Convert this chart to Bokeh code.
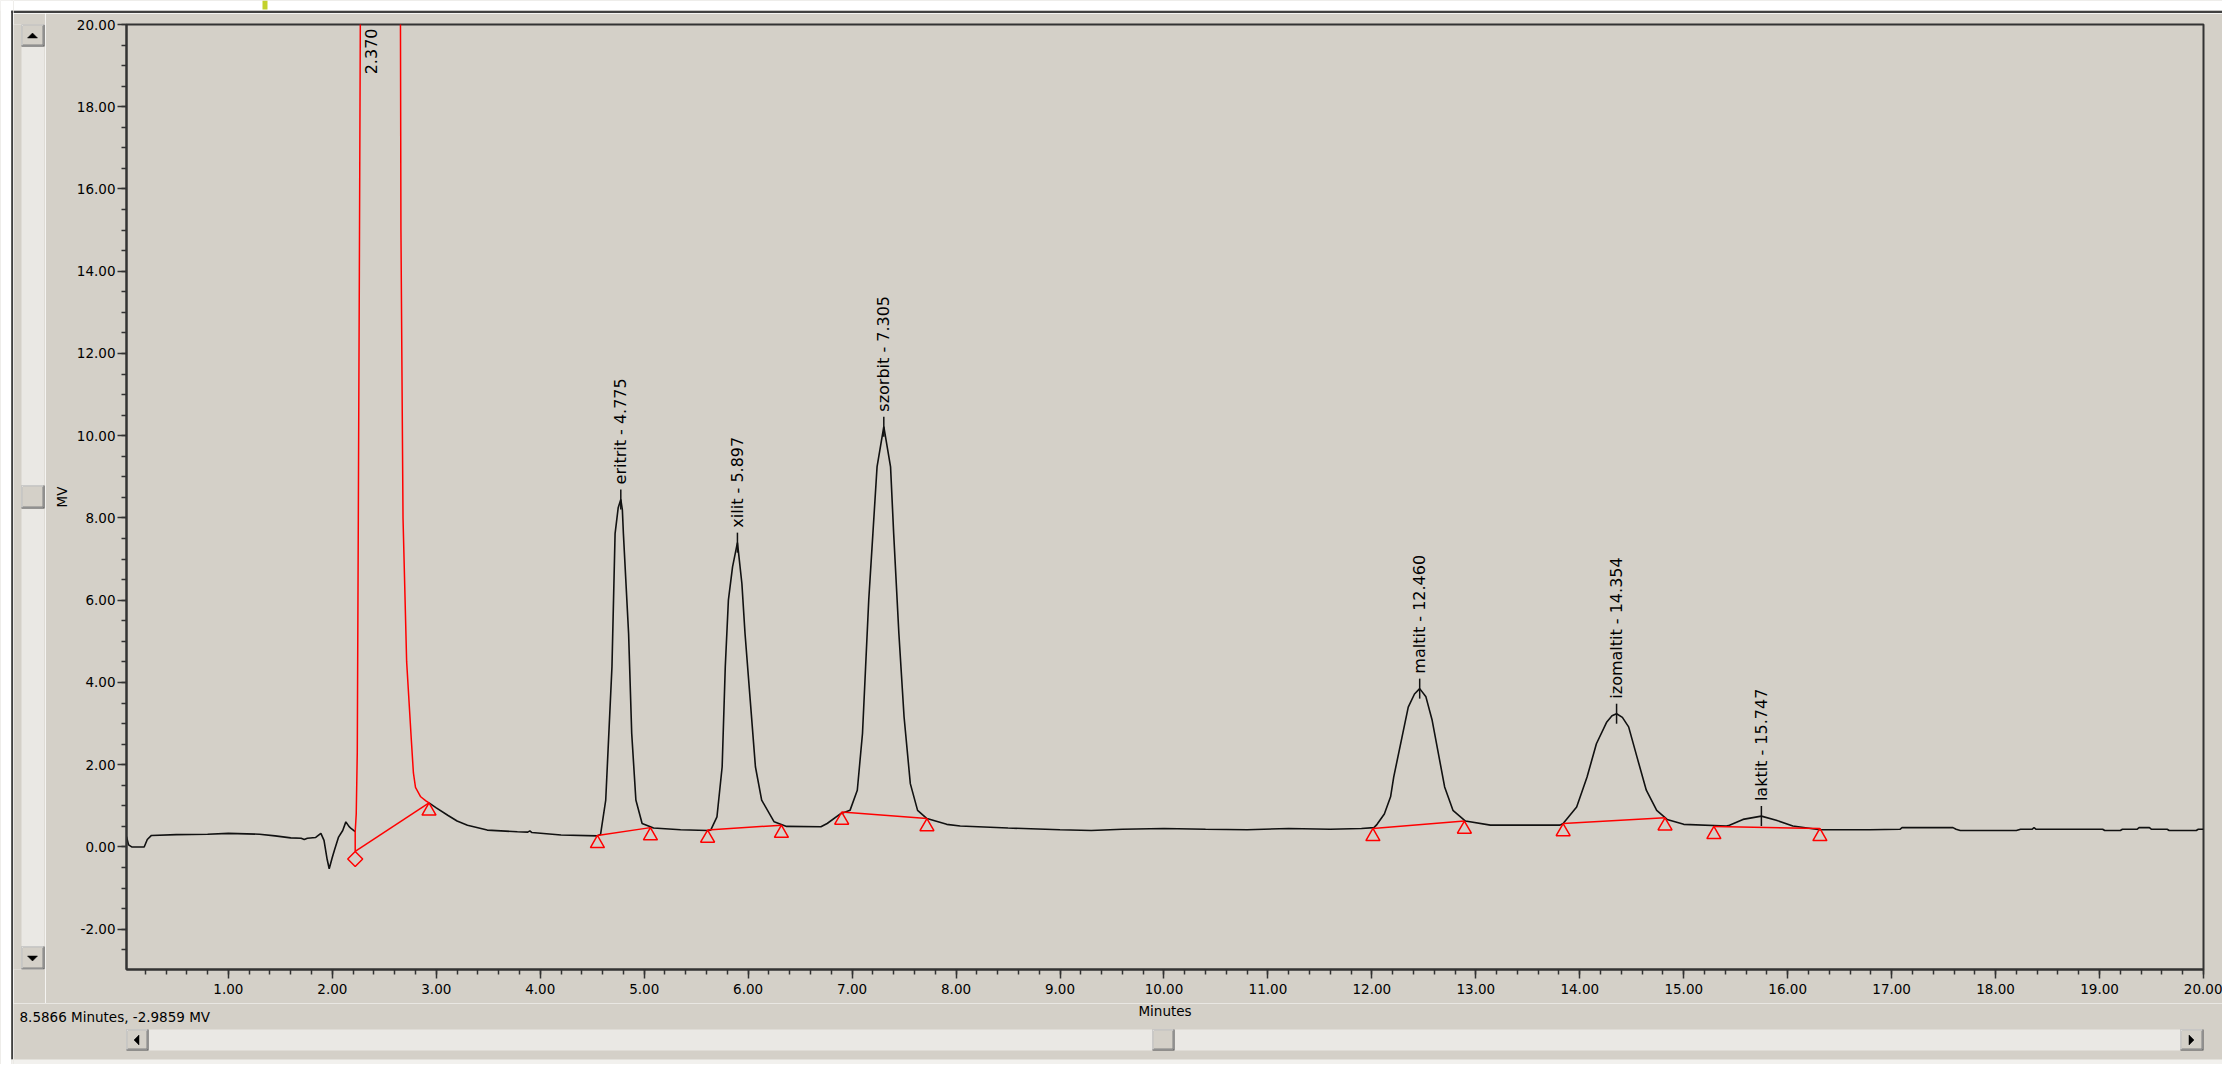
from math import pi
from bokeh.plotting import figure
from bokeh.layouts import column, row
from bokeh.models import ColumnDataSource, Range1d, FixedTicker, PrintfTickFormatter
from bokeh.transform import dodge
from bokeh.core.properties import value
from bokeh.embed import file_html
from bokeh.resources import INLINE

# ---------------- data ----------------
# detector trace before the solvent peak (minutes, MV)
trace1_time = [0.02, 0.04, 0.07, 0.19, 0.22, 0.26, 0.50, 0.80, 1.00, 1.30,
               1.45, 1.60, 1.70, 1.73, 1.76, 1.84, 1.89, 1.92, 1.95, 1.97,
               2.00, 2.02, 2.06, 2.10, 2.13, 2.16, 2.18, 2.22]
trace1_mv = [0.25, 0.05, 0.00, 0.00, 0.18, 0.28, 0.30, 0.31, 0.33, 0.31,
             0.27, 0.22, 0.21, 0.18, 0.21, 0.23, 0.33, 0.16, -0.30, -0.53,
             -0.25, -0.08, 0.24, 0.40, 0.61, 0.50, 0.45, 0.37]

# solvent peak (drawn red, apex off scale)
solvent_time = [2.22, 2.22, 2.23, 2.24, 2.25, 2.26, 2.27, 2.37, 2.655, 2.66,
                2.68, 2.715, 2.76, 2.78, 2.80, 2.85, 2.90, 2.93]
solvent_mv = [-0.11, 0.37, 0.80, 2.30, 8.00, 14.0, 20.5, 40.0, 20.5, 15.0,
              8.00, 4.50, 2.60, 1.80, 1.45, 1.22, 1.12, 1.07]

# detector trace after the solvent peak
trace2_time = [2.93, 3.00, 3.11, 3.20, 3.30, 3.49, 3.78, 3.88, 3.90, 3.92,
               4.20, 4.55, 4.58, 4.63, 4.69, 4.72, 4.75, 4.775, 4.79, 4.80,
               4.85, 4.88, 4.92, 4.98, 5.09, 5.35, 5.61, 5.64, 5.70, 5.75,
               5.78, 5.81, 5.85, 5.897, 5.94, 5.97, 6.02, 6.07, 6.13, 6.25,
               6.37, 6.70, 6.76, 6.89, 6.98, 7.05, 7.10, 7.13, 7.16, 7.20,
               7.24, 7.305, 7.37, 7.40, 7.45, 7.50, 7.56, 7.63, 7.72, 7.91,
               8.04, 8.50, 9.00, 9.30, 9.60, 10.00, 10.40, 10.80, 11.20, 11.60,
               11.90, 12.02, 12.05, 12.12, 12.18, 12.21, 12.29, 12.35, 12.41, 12.46,
               12.52, 12.58, 12.64, 12.70, 12.78, 12.90, 13.14, 13.81, 13.84, 13.97,
               14.07, 14.16, 14.26, 14.31, 14.354, 14.41, 14.47, 14.55, 14.64, 14.74,
               14.84, 15.00, 15.41, 15.44, 15.57, 15.747, 15.89, 16.05, 16.31, 16.79,
               17.08, 17.10, 17.59, 17.62, 17.66, 18.20, 18.24, 18.35, 18.37, 18.39,
               19.03, 19.05, 19.20, 19.22, 19.36, 19.38, 19.48, 19.50, 19.65, 19.67,
               19.93, 19.95, 20.00]
trace2_mv = [1.07, 0.95, 0.77, 0.63, 0.53, 0.41, 0.37, 0.36, 0.39, 0.35,
             0.29, 0.27, 0.30, 1.14, 4.38, 7.62, 8.25, 8.45, 8.20, 7.62,
             5.19, 2.76, 1.14, 0.57, 0.46, 0.42, 0.40, 0.41, 0.73, 1.95,
             4.38, 6.00, 6.81, 7.40, 6.40, 5.19, 3.57, 1.95, 1.14, 0.61,
             0.50, 0.49, 0.57, 0.81, 0.89, 1.38, 2.76, 4.38, 6.00, 7.62,
             9.24, 10.22, 9.24, 7.62, 5.19, 3.16, 1.54, 0.89, 0.69, 0.55,
             0.51, 0.46, 0.42, 0.40, 0.43, 0.45, 0.43, 0.42, 0.45, 0.43,
             0.45, 0.47, 0.55, 0.80, 1.22, 1.70, 2.67, 3.40, 3.72, 3.85,
             3.65, 3.08, 2.27, 1.46, 0.89, 0.63, 0.53, 0.53, 0.57, 0.97,
             1.70, 2.51, 3.04, 3.19, 3.24, 3.15, 2.92, 2.19, 1.38, 0.89,
             0.67, 0.55, 0.51, 0.53, 0.67, 0.75, 0.65, 0.51, 0.42, 0.42,
             0.43, 0.47, 0.47, 0.43, 0.40, 0.40, 0.43, 0.43, 0.47, 0.43,
             0.43, 0.40, 0.40, 0.43, 0.43, 0.47, 0.47, 0.43, 0.43, 0.40,
             0.40, 0.43, 0.43]

# identified peaks
peak_names = ["eritrit", "xilit", "szorbit", "maltit", "izomaltit", "laktit"]
peak_times = [4.775, 5.897, 7.305, 12.460, 14.354, 15.747]
peak_heights = [8.45, 7.40, 10.22, 3.85, 3.24, 0.75]

solvent_label = "2.370"
solvent_rt = 2.370

# integration baselines (start / end of each peak)
base_start_time = [2.22, 4.55, 5.61, 6.90, 12.01, 13.84, 15.29]
base_start_mv = [-0.11, 0.28, 0.41, 0.85, 0.45, 0.57, 0.50]
base_end_time = [2.93, 5.06, 6.32, 7.72, 12.89, 14.82, 16.31]
base_end_mv = [1.07, 0.47, 0.53, 0.69, 0.63, 0.71, 0.45]

x_ticks = [1.0, 2.0, 3.0, 4.0, 5.0, 6.0, 7.0, 8.0, 9.0, 10.0,
           11.0, 12.0, 13.0, 14.0, 15.0, 16.0, 17.0, 18.0, 19.0, 20.0]
y_ticks = [-2.0, 0.0, 2.0, 4.0, 6.0, 8.0, 10.0, 12.0, 14.0, 16.0, 18.0, 20.0]
x_title = "Minutes"
y_title = "MV"
status_text = "8.5866 Minutes, -2.9859 MV"

assert len(trace1_time) == len(trace1_mv)
assert len(solvent_time) == len(solvent_mv)
assert len(trace2_time) == len(trace2_mv)

# ---------------- styling / geometry (page pixels) ----------------
BG = "#D4D0C8"
DARK = "#333333"
TRACK = "#EAE8E4"
FONT = "DejaVu Sans"
TOTAL_W, TOTAL_H = 2222, 1064
EDGE_W = 13
TOP_H = 13
LEFT_R = 45
MAIN_H = 990
BOTTOM_Y = TOP_H + MAIN_H
BOTTOM_H = TOTAL_H - BOTTOM_Y
FRAME_L, FRAME_T, FRAME_R, FRAME_B = 126, 24, 2203, 969

# ---------------- main chromatogram figure ----------------
p = figure(width=TOTAL_W - LEFT_R, height=MAIN_H,
           x_range=Range1d(0.02, 20.0), y_range=Range1d(-2.98, 20.0),
           output_backend="svg", toolbar_location=None,
           min_border_left=FRAME_L - LEFT_R, min_border_top=FRAME_T - TOP_H,
           min_border_right=TOTAL_W - FRAME_R, min_border_bottom=BOTTOM_Y - FRAME_B,
           background_fill_color=BG, border_fill_color=BG)
p.grid.visible = False
p.outline_line_color = DARK
p.outline_line_width = 2

x_minor = [round(0.2 * i, 1) for i in range(1, 101)]
y_minor = [-2.5 + 0.5 * i for i in range(0, 46)]
p.xaxis.ticker = FixedTicker(ticks=x_ticks, minor_ticks=x_minor)
p.yaxis.ticker = FixedTicker(ticks=y_ticks, minor_ticks=y_minor)
p.xaxis.formatter = PrintfTickFormatter(format="%.2f")
p.yaxis.formatter = PrintfTickFormatter(format="%.2f")
p.yaxis.axis_label = y_title
for ax in (p.xaxis, p.yaxis):
    ax.axis_line_color = DARK
    ax.axis_line_width = 2
    ax.major_tick_line_color = DARK
    ax.major_tick_line_width = 1.5
    ax.minor_tick_line_color = DARK
    ax.minor_tick_line_width = 1.5
    ax.major_tick_in = 0
    ax.major_tick_out = 9
    ax.minor_tick_in = 0
    ax.minor_tick_out = 5
    ax.major_label_text_font = FONT
    ax.major_label_text_font_size = "13.5px"
    ax.major_label_text_color = "#000000"
    ax.axis_label_text_font = FONT
    ax.axis_label_text_font_size = "13.5px"
    ax.axis_label_text_font_style = "normal"
    ax.axis_label_text_color = "#000000"
p.xaxis.major_label_standoff = 5
p.yaxis.major_label_standoff = 2
p.yaxis.axis_label_standoff = 4

p.line(trace1_time, trace1_mv, line_color="#111111", line_width=1.6)
p.line(trace2_time, trace2_mv, line_color="#111111", line_width=1.6)
p.line(solvent_time, solvent_mv, line_color="#FF0000", line_width=1.5)

p.segment(x0=base_start_time, y0=base_start_mv, x1=base_end_time, y1=base_end_mv,
          line_color="#FF0000", line_width=1.5)

tri_src = ColumnDataSource(dict(t=base_start_time[1:] + base_end_time,
                                v=base_start_mv[1:] + base_end_mv))
p.scatter(x="t", y=dodge("v", -0.197, range=p.y_range), source=tri_src, marker="triangle",
          size=14, fill_color=None, line_color="#FF0000", line_width=1.5)
dia_src = ColumnDataSource(dict(t=base_start_time[:1], v=base_start_mv[:1]))
p.scatter(x="t", y=dodge("v", -0.182, range=p.y_range), source=dia_src, marker="square",
          angle=pi / 4, size=10.6, fill_color=None, line_color="#FF0000", line_width=1.5)

pk_src = ColumnDataSource(dict(t=peak_times, h=peak_heights,
                               label=[f"{n} - {t:.3f}" for n, t in zip(peak_names, peak_times)]))
p.scatter(x="t", y="h", source=pk_src, marker="dash", angle=pi / 2, size=20,
          line_color="#111111", line_width=1.5)
p.text(x="t", y="h", text="label", source=pk_src, angle=pi / 2, text_align="left",
       text_baseline="middle", y_offset=-15, text_font=value(FONT),
       text_font_size=value("16px"), text_color="#000000")
sv_src = ColumnDataSource(dict(t=[solvent_rt], y=[20.0], label=[solvent_label]))
p.text(x="t", y="y", text="label", source=sv_src, angle=pi / 2, text_align="right",
       text_baseline="middle", y_offset=4, text_font=value(FONT),
       text_font_size=value("16px"), text_color="#000000")


# ---------------- window chrome (drawn in page-pixel coordinates) ----------------
def chrome(x0, x1, y0, y1, width, height, **borders):
    f = figure(width=width, height=height, x_range=Range1d(x0, x1), y_range=Range1d(y1, y0),
               min_border=0, toolbar_location=None, output_backend="svg",
               x_axis_type=None, y_axis_type=None,
               background_fill_color=BG, border_fill_color=BG, outline_line_color=None,
               **borders)
    return f


def rect(f, l, t, r, b, color):
    f.quad(left=l, right=r, top=t, bottom=b, fill_color=color, line_color=None)


def button(f, l, t, r, b):
    rect(f, l, t, r, b, "#404040")
    rect(f, l, t, r - 1, b - 1, "#FFFFFF")
    rect(f, l + 1, t + 1, r - 1, b - 1, "#808080")
    rect(f, l + 1, t + 1, r - 2, b - 2, BG)


def arrow(f, xs, ys):
    f.patch(xs, ys, fill_color="#000000", line_color="#000000", line_width=0.5)


# outer left edge: white margin + window border line, full height
edge = chrome(0, EDGE_W, 0, TOTAL_H, EDGE_W, TOTAL_H)
rect(edge, 0, 0, 10.7, TOTAL_H, "#FFFFFF")
rect(edge, 0, 0, EDGE_W, 10.3, "#FFFFFF")
rect(edge, 10.7, 10.3, 12.7, 1059, "#404040")
rect(edge, 10.7, 10.3, EDGE_W, 12.5, "#404040")
rect(edge, 10.7, 1059, EDGE_W, TOTAL_H, "#F2F1EE")

# top strip
top = chrome(EDGE_W, TOTAL_W, 0, TOP_H, TOTAL_W - EDGE_W, TOP_H)
rect(top, EDGE_W, 0, TOTAL_W, 10.3, "#FFFFFF")
rect(top, EDGE_W, 10.3, TOTAL_W, 12.5, "#404040")
rect(top, 262, 0, 267, 9, "#C3D12B")

# vertical scrollbar: its frame lines up with the chart frame (FRAME_T..FRAME_B)
left = chrome(EDGE_W, LEFT_R, FRAME_T, FRAME_B, LEFT_R - EDGE_W, MAIN_H,
              min_border_top=FRAME_T - TOP_H, min_border_bottom=BOTTOM_Y - FRAME_B)
rect(left, 21, FRAME_T, 44, FRAME_B, TRACK)
button(left, 21, FRAME_T, 44, 46)
arrow(left, [27, 37, 32], [37.5, 37.5, 32.5])
button(left, 21, 946, 44, FRAME_B)
arrow(left, [27, 37, 32], [955.5, 955.5, 960.5])
button(left, 21, 485, 44, 508)

# bottom strip: axis title, status text, horizontal scrollbar
bot = chrome(EDGE_W, TOTAL_W, BOTTOM_Y, TOTAL_H, TOTAL_W - EDGE_W, BOTTOM_H)
rect(bot, EDGE_W, 1059, TOTAL_W, TOTAL_H, "#F2F1EE")
bot.text(x=[(FRAME_L + FRAME_R) / 2], y=[1010], text=[x_title], text_align="center",
         text_baseline="middle", text_font=value(FONT), text_font_size=value("13.5px"),
         text_color="#000000")
bot.text(x=[19], y=[1016.5], text=[status_text], text_align="left",
         text_baseline="middle", text_font=value(FONT), text_font_size=value("13.5px"),
         text_color="#000000")
rect(bot, FRAME_L, 1029, FRAME_R, 1050, TRACK)
button(bot, FRAME_L, 1029, 148, 1050)
arrow(bot, [138.5, 138.5, 133.5], [1034.5, 1044.5, 1039.5])
button(bot, 2180, 1029, FRAME_R, 1050)
arrow(bot, [2188.5, 2188.5, 2193.5], [1034.5, 1044.5, 1039.5])
button(bot, 1152, 1029, 1174, 1050)

layout = row(edge, column(top, row(left, p, spacing=0), bot, spacing=0), spacing=0)

open("out.html", "w").write(file_html(layout, INLINE))
